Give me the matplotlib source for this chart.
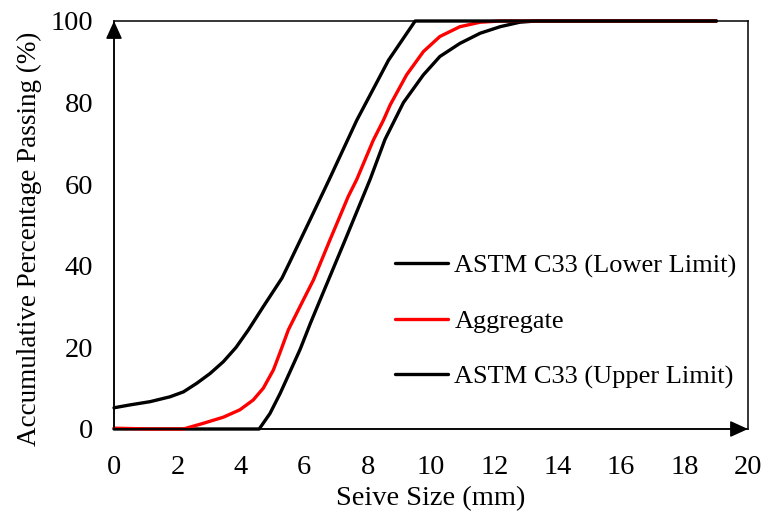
import matplotlib
matplotlib.use("Agg")
import matplotlib.pyplot as plt

plt.rcParams['font.family'] = ['Liberation Serif', 'DejaVu Serif']

# Data
lower_x = [0, 2.0, 4.58, 4.92, 5.24, 5.55, 5.87, 6.2, 6.5, 7.29, 7.81, 8.08, 8.55, 9.13,
           9.76, 10.28, 10.91, 11.55, 12.18, 12.8, 13.3, 19]
lower_y = [0, 0, 0, 3.8, 8.7, 14, 19.5, 26, 31.6, 46.3, 56.1, 61.2, 71, 80,
           86.8, 91.3, 94.5, 97, 98.6, 99.7, 100, 100]

agg_x = [0, 1.14, 2.19, 2.82, 3.45, 3.97, 4.39, 4.71, 5.03, 5.24, 5.5, 5.97, 6.29,
         6.81, 7.39, 7.66, 8.18, 8.5, 8.71, 9.23, 9.76, 10.28, 10.91, 11.55, 12.18, 19]
agg_y = [0.2, 0, 0, 1.4, 2.9, 4.7, 7.1, 10, 14.5, 18.8, 24.3, 31.6, 36.5,
         46.3, 57, 61.2, 70.8, 75.7, 79.4, 86.8, 92.5, 96.2, 98.6, 99.7, 100, 100]

upper_x = [0, 0.5, 1.14, 1.77, 2.19, 2.61, 3.03, 3.45, 3.85, 4.24, 4.71, 5.3, 5.55,
           6.18, 6.78, 7.66, 8.66, 9.5, 19]
upper_y = [5.2, 5.9, 6.7, 7.9, 9.1, 11.2, 13.6, 16.5, 20, 24.3, 30, 37, 41,
           51.2, 61, 75.7, 90.4, 100, 100]

labels = ['ASTM C33 (Lower Limit)', 'Aggregate', 'ASTM C33 (Upper Limit)']
x_ticks = [0, 2, 4, 6, 8, 10, 12, 14, 16, 18, 20]
y_ticks = [0, 20, 40, 60, 80, 100]

fig = plt.figure(figsize=(7.66, 5.17), dpi=100)
ax = fig.add_axes([114/766, 1 - 429/517, (748 - 114)/766, (429 - 21)/517])

lw = 2.4
for xs, ys, c, lab in [(lower_x, lower_y, 'black', labels[0]),
                       (agg_x, agg_y, '#ff0000', labels[1]),
                       (upper_x, upper_y, 'black', labels[2])]:
    ax.plot(xs, ys, color=c, lw=lw, label=lab, clip_on=False,
            solid_capstyle='round', solid_joinstyle='round')

ax.set_xlim(0, 20)
ax.set_ylim(0, 100)
ax.set_xticks(x_ticks)
ax.set_yticks(y_ticks)
ax.tick_params(axis='both', length=0, labelsize=20.5)
ax.tick_params(axis='y', pad=15)
ax.tick_params(axis='x', pad=19)
for s in ax.spines.values():
    s.set_linewidth(1.1)
    s.set_color('black')

ax.set_xlabel('Seive Size (mm)', fontsize=20.5, labelpad=4)
ax.set_ylabel('Accumulative Percentage Passing (%)', fontsize=19.5)
ax.yaxis.set_label_coords(-0.113, 0.465)

# axis arrows
arrow = dict(arrowstyle='-|>,head_length=1.1,head_width=0.5', color='black', lw=1.1,
             shrinkA=0, shrinkB=0)
ax.annotate('', xy=(0, 1.0), xytext=(0, 0), xycoords='axes fraction', arrowprops=arrow)
ax.annotate('', xy=(1.0, 0), xytext=(0, 0), xycoords='axes fraction', arrowprops=arrow)

leg = ax.legend(loc='upper left', bbox_to_anchor=(395/766, 1 - 254/517),
                bbox_transform=fig.transFigure, frameon=False, fontsize=19,
                handlelength=2.0, handletextpad=0.25, labelspacing=1.2,
                borderpad=0, borderaxespad=0)

fig.savefig('out.png', dpi=100)
